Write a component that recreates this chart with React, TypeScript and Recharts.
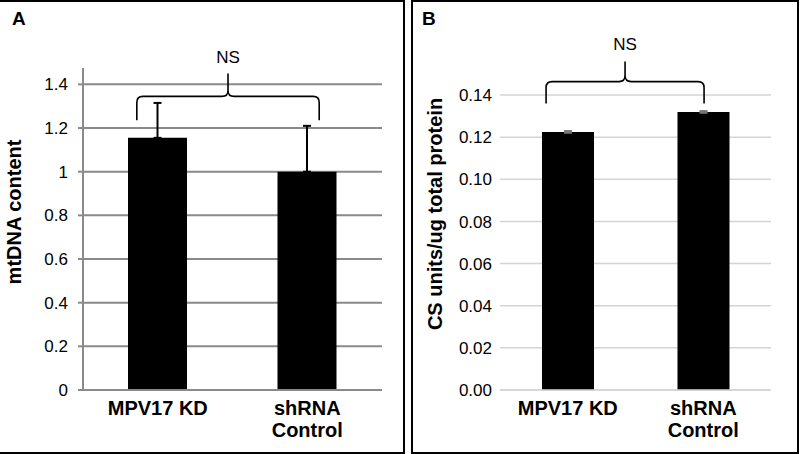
import React from 'react';
import { BarChart, Bar, XAxis, YAxis, CartesianGrid, ErrorBar, ReferenceArea } from 'recharts';

const FONT = '"Liberation Sans", Arial, Helvetica, sans-serif';

// shared categories
const categories = ['MPV17 KD', 'shRNA Control'];
const categoryLines = [['MPV17 KD'], ['shRNA', 'Control']];

// panel A: mtDNA content
const mtdnaValues = [1.155, 1.0];
const mtdnaErrors = [0.16, 0.21];
const mtdnaTicks = [0, 0.2, 0.4, 0.6, 0.8, 1, 1.2, 1.4];

// panel B: citrate synthase
const csValues = [0.1225, 0.132];
const csErrors = [0.0004, 0.0004];
const csTicks = [0, 0.02, 0.04, 0.06, 0.08, 0.1, 0.12, 0.14];

const mtdnaData = categories.map((name, i) => ({ name, value: mtdnaValues[i], err: [0, mtdnaErrors[i]] }));
const csData = categories.map((name, i) => ({ name, value: csValues[i], err: csErrors[i] }));

const CategoryTick = (props: any) => {
  const { x, y, payload } = props;
  const idx = categories.indexOf(payload.value);
  const lines = idx >= 0 ? categoryLines[idx] : [payload.value];
  return (
    <text x={x} y={y} textAnchor="middle" fontFamily={FONT} fontSize={20} fontWeight="bold" fill="#000">
      {lines.map((l: string, i: number) => (
        <tspan key={i} x={x} dy={i === 0 ? 25 : 22}>{l}</tspan>
      ))}
    </text>
  );
};

const YLabel = (props: any) => {
  const { viewBox, text, cx, shift } = props;
  const cy = viewBox.y + viewBox.height / 2 + shift;
  return (
    <text x={cx} y={cy} transform={`rotate(-90, ${cx}, ${cy})`} textAnchor="middle" dominantBaseline="central"
      fontFamily={FONT} fontSize={20} fontWeight="bold" fill="#000">
      {text}
    </text>
  );
};

// curly bracket with "NS" drawn inside a reference area
const Brace = (props: any) => {
  const { x, y, width, height, left, right, rise, gap } = props;
  const L = x + width * left;
  const R = x + width * right;
  const M = (L + R) / 2;
  const top = y;
  const end = y + height;
  const tip = top - rise;
  const r = 6;
  const d = [
    `M ${L} ${end} L ${L} ${top + r} Q ${L} ${top} ${L + r} ${top} L ${M - r} ${top} Q ${M} ${top} ${M} ${top - r} L ${M} ${tip}`,
    `M ${M} ${top - r} Q ${M} ${top} ${M + r} ${top} L ${R - r} ${top} Q ${R} ${top} ${R} ${top + r} L ${R} ${end}`,
  ].join(' ');
  return (
    <g>
      <path d={d} fill="none" stroke="#000" strokeWidth={1.6} />
      <text x={M} y={tip - gap} textAnchor="middle" fontFamily={FONT} fontSize={17} fill="#000">NS</text>
    </g>
  );
};

const PanelLetter = ({ x, children }: { x: number; children: string }) => (
  <div style={{ position: 'absolute', left: x, top: 8, fontFamily: FONT, fontWeight: 'bold', fontSize: 19, lineHeight: '22px' }}>
    {children}
  </div>
);

export default function App() {
  return (
    <div style={{ position: 'absolute', left: 0, top: 0, width: 800, height: 454, background: '#fff', overflow: 'hidden' }}>
      <div style={{ position: 'absolute', left: 0, top: 0 }}>
        <BarChart width={404} height={454} data={mtdnaData} margin={{ top: 68, right: 22, bottom: 0, left: 0 }}>
          <CartesianGrid vertical={false} horizontalValues={mtdnaTicks} stroke="#8a8a8a" strokeWidth={2} />
          <XAxis dataKey="name" height={64} tickSize={0} tickMargin={0} axisLine={{ stroke: '#8a8a8a', strokeWidth: 2 }}
            tick={<CategoryTick />} interval={0} />
          <YAxis width={83} domain={[0, 1.475]} ticks={mtdnaTicks} allowDataOverflow
            axisLine={{ stroke: '#8a8a8a', strokeWidth: 2 }} tickLine={{ stroke: '#8a8a8a', strokeWidth: 2 }}
            tickSize={5} tickMargin={10} tick={{ fill: '#000', fontSize: 17, fontFamily: FONT }}
            label={<YLabel text="mtDNA content" cx={14} shift={-17} />} />
          <Bar dataKey="value" fill="#000" barSize={59} isAnimationActive={false}>
            <ErrorBar dataKey="err" direction="y" width={4} stroke="#000" strokeWidth={2} />
          </Bar>
          <ReferenceArea x1={categories[0]} x2={categories[1]} y1={1.236} y2={1.345} ifOverflow="visible"
            shape={<Brace left={0.18} right={0.79} rise={23} gap={10} />} />
        </BarChart>
      </div>
      <div style={{ position: 'absolute', left: 411, top: 0 }}>
        <BarChart width={388} height={454} data={csData} margin={{ top: 74, right: 28, bottom: 0, left: 0 }}>
          <CartesianGrid vertical={false} horizontalValues={csTicks} stroke="#d4d4d4" strokeWidth={1.5} />
          <XAxis dataKey="name" height={64} tickSize={0} tickMargin={0} axisLine={{ stroke: '#d4d4d4', strokeWidth: 1.5 }}
            tick={<CategoryTick />} interval={0} />
          <YAxis width={89} domain={[0, 0.15]} ticks={csTicks} allowDataOverflow axisLine={false} tickLine={false}
            tickSize={0} tickMargin={8} tick={{ fill: '#000', fontSize: 17, fontFamily: FONT }}
            tickFormatter={(v: number) => v.toFixed(2)}
            label={<YLabel text="CS units/ug total protein" cx={24} shift={-18} />} />
          <Bar dataKey="value" fill="#000" barSize={52} isAnimationActive={false}>
            <ErrorBar dataKey="err" direction="y" width={4} stroke="#777" strokeWidth={2} />
          </Bar>
          <ReferenceArea x1={categories[0]} x2={categories[1]} y1={0.136} y2={0.1464} ifOverflow="visible"
            shape={<Brace left={0.17} right={0.753} rise={20} gap={12} />} />
        </BarChart>
      </div>
      <div style={{ position: 'absolute', left: -2, top: 0, width: 407, height: 454, border: '2px solid #000', boxSizing: 'border-box', pointerEvents: 'none' }} />
      <div style={{ position: 'absolute', left: 411, top: 0, width: 388, height: 454, border: '2px solid #000', boxSizing: 'border-box', pointerEvents: 'none' }} />
      <PanelLetter x={12}>A</PanelLetter>
      <PanelLetter x={422}>B</PanelLetter>
    </div>
  );
}
